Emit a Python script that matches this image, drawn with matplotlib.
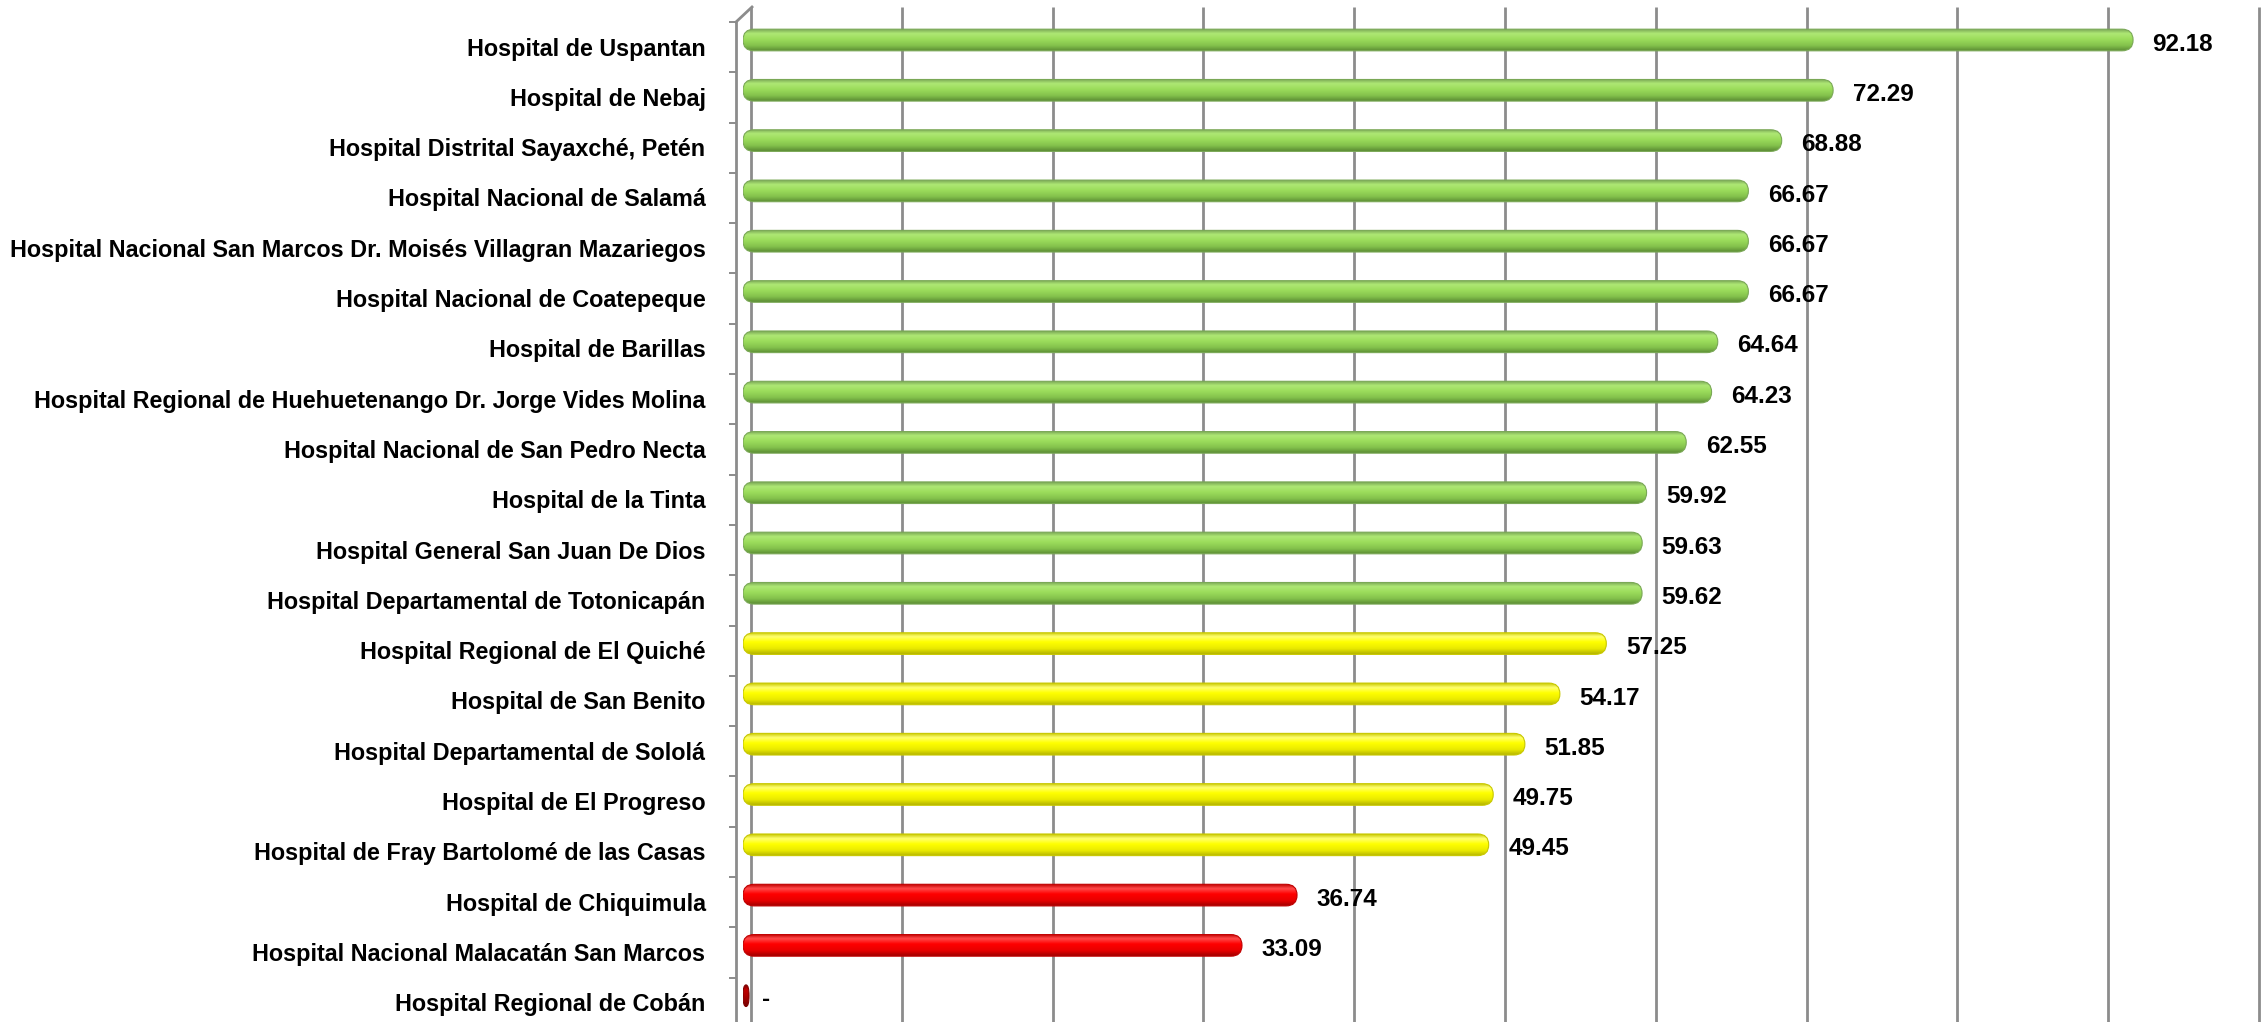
"""
Horizontal cylinder-style bar chart of hospital scores.
"""

import matplotlib
matplotlib.use('Agg')
import matplotlib.pyplot as plt
import numpy as np
from matplotlib.patches import FancyBboxPatch
from matplotlib.transforms import ScaledTranslation
from matplotlib.colors import to_rgb

hospitals = [
    'Hospital de Uspantan',
    'Hospital de Nebaj',
    'Hospital Distrital Sayaxché, Petén',
    'Hospital Nacional de Salamá',
    'Hospital Nacional San Marcos Dr. Moisés Villagran Mazariegos',
    'Hospital Nacional de Coatepeque',
    'Hospital de Barillas',
    'Hospital Regional de Huehuetenango Dr. Jorge Vides Molina',
    'Hospital Nacional de San Pedro Necta',
    'Hospital de la Tinta',
    'Hospital General San Juan De Dios',
    'Hospital Departamental de Totonicapán',
    'Hospital Regional de El Quiché',
    'Hospital de San Benito',
    'Hospital Departamental de Sololá',
    'Hospital de El Progreso',
    'Hospital de Fray Bartolomé de las Casas',
    'Hospital de Chiquimula',
    'Hospital Nacional Malacatán San Marcos',
    'Hospital Regional de Cobán',
]
scores = [92.18, 72.29, 68.88, 66.67, 66.67, 66.67, 64.64, 64.23, 62.55, 59.92,
          59.63, 59.62, 57.25, 54.17, 51.85, 49.75, 49.45, 36.74, 33.09, 0.0]
value_labels = ['92.18', '72.29', '68.88', '66.67', '66.67', '66.67', '64.64',
                '64.23', '62.55', '59.92', '59.63', '59.62', '57.25', '54.17',
                '51.85', '49.75', '49.45', '36.74', '33.09', '-']
grid_ticks = list(range(0, 101, 10))

# shading: (edge, highlight, body, lower, bottom)
palettes = {
    'green': ['#7AA856', '#AEE874', '#9CDD5C', '#84C24C', '#5B8C34'],
    'yellow': ['#C8C800', '#FFFF70', '#FFFF00', '#EAEA00', '#B4B400'],
    'red': ['#C00000', '#FF4A4A', '#FF0000', '#E80000', '#A00000'],
    'dark': ['#800000', '#C00000', '#B00000', '#900000', '#700000'],
}


def tier(value):
    if value == 0:
        return 'dark'
    if value >= 58:
        return 'green'
    if value >= 40:
        return 'yellow'
    return 'red'


def gradient(colors, n=64):
    stops = [0.0, 0.2, 0.45, 0.75, 1.0]
    rgb = np.array([to_rgb(c) for c in colors])
    t = np.linspace(0, 1, n)
    col = np.stack([np.interp(t, stops, rgb[:, k]) for k in range(3)], axis=-1)
    return col[:, None, :]


plt.rcParams['font.family'] = ['Liberation Sans Narrow', 'Liberation Sans', 'DejaVu Sans']
plt.rcParams['font.weight'] = 'bold'

W, H, DPI = 2262, 1022, 100
fig = plt.figure(figsize=(W / DPI, H / DPI), dpi=DPI)
ax_left, ax_right = 743, 2251
ax_top, ax_bottom = 7, 1022
ax = fig.add_axes([ax_left / W, 1 - ax_bottom / H, (ax_right - ax_left) / W,
                   (ax_bottom - ax_top) / H])

row_px = 50.3
first_px = 40
ylim_top = (ax_top - first_px) / row_px
ylim_bottom = (ax_bottom - first_px) / row_px
wall_top = (22 - first_px) / row_px

ypos = np.arange(len(hospitals))
bar_h = 0.43
px_per_x = (ax_right - ax_left) / 100.0
cap_r = 11 / px_per_x  # rounded end radius in x units

for i, (v, lab) in enumerate(zip(scores, value_labels)):
    cols = palettes[tier(v)]
    w = v if v > 0 else 0.4
    dr = min(cap_r, w / 2)
    patch = FancyBboxPatch((0, i - bar_h / 2), w, bar_h,
                           boxstyle=f'round,pad=0,rounding_size={dr}',
                           mutation_aspect=(bar_h / 2) / dr,
                           facecolor='none', edgecolor=cols[0], linewidth=0.8,
                           zorder=4)
    ax.add_patch(patch)
    im = ax.imshow(gradient(cols), extent=(0, w, i + bar_h / 2, i - bar_h / 2),
                   aspect='auto', origin='upper', zorder=3, interpolation='bilinear')
    im.set_clip_path(patch)
    ax.annotate(lab, xy=(v, i), xytext=(14, -3), textcoords='offset points',
                ha='left', va='center', fontsize=17.5, fontweight='bold', zorder=5)

# back-wall gridlines (shifted a little right, 3D look)
shift = ScaledTranslation(8 / DPI, 0, fig.dpi_scale_trans)
ax.vlines(grid_ticks, 0, 1, transform=ax.get_xaxis_transform() + shift,
          colors='#8C8C8C', linewidth=2.0, zorder=1, clip_on=False)

ax.set_xlim(0, 100)
ax.set_ylim(ylim_bottom, ylim_top)
ax.set_xticks([])

ax.set_yticks(ypos + 0.13)
ax.set_yticks(ypos + wall_top, minor=True)
ax.set_yticklabels(hospitals)
ax.tick_params(axis='y', which='major', length=0, pad=22, labelsize=16.8)
ax.tick_params(axis='y', which='minor', length=5, width=1.4, color='#8C8C8C',
               direction='out')
for t in ax.get_yticklabels():
    t.set_fontweight('bold')

for s in ['top', 'right', 'bottom']:
    ax.spines[s].set_visible(False)
ax.spines['left'].set_position(('outward', 5))
ax.spines['left'].set_bounds(ylim_bottom, wall_top)
ax.spines['left'].set_color('#8C8C8C')
ax.spines['left'].set_linewidth(2.0)

# top diagonal joining the side wall to the back wall
fig.add_artist(plt.Line2D([736 / W, 752 / W], [1 - 22 / H, 1 - 7 / H],
                          color='#8C8C8C', linewidth=2.0))

fig.savefig('out.png', dpi=DPI, facecolor='white')
